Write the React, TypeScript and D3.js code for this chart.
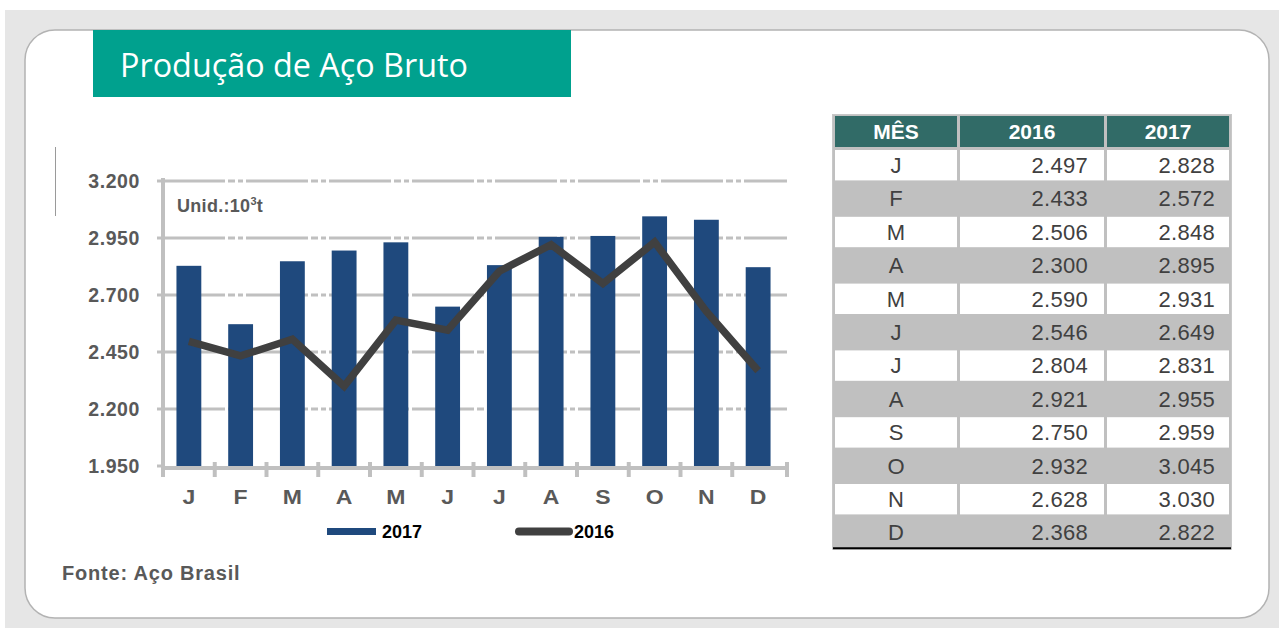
import React from "react";
import * as d3 from "d3";

const months = ["J", "F", "M", "A", "M", "J", "J", "A", "S", "O", "N", "D"];
const values2016 = [2497, 2433, 2506, 2300, 2590, 2546, 2804, 2921, 2750, 2932, 2628, 2368];
const values2017 = [2828, 2572, 2848, 2895, 2931, 2649, 2831, 2955, 2959, 3045, 3030, 2822];
const yTicks = [1950, 2200, 2450, 2700, 2950, 3200];
const tableHeaders = ["MÊS", "2016", "2017"];

const locale = d3.formatLocale({ decimal: ",", thousands: ".", grouping: [3], currency: ["R$", ""] });
const fmt = locale.format(",d");

const W = 1279;
const H = 628;
const FONT = "'Liberation Sans', Arial, sans-serif";

export default function App() {
  const idx = months.map((_, i) => i);
  const x = d3.scaleBand<number>().domain(idx).range([163, 784]).paddingInner(0.52).paddingOuter(0.26);
  const y = d3.scaleLinear().domain([1950, 3200]).range([466, 181]);
  const band = d3.scaleBand<number>().domain(idx).range([163, 784]);

  const line = d3
    .line<number>()
    .x((_, i) => (band(i) as number) + band.bandwidth() / 2)
    .y((d) => y(d));

  // table geometry
  const tX = 833;
  const tW = 398;
  const tTop = 115;
  const headH = 33;
  const rowH = 33.4;
  const cols = [
    [835, 957],
    [960, 1104],
    [1107, 1229],
  ];
  const tBottom = tTop + headH + rowH * months.length;

  const tickColor = "#c0c0c0";
  const textGray = "#595959";

  return (
    <div style={{ position: "absolute", left: 0, top: 0 }}>
      <svg width={W} height={H} style={{ display: "block" }}>
        <rect x={0} y={0} width={W} height={H} fill="#ffffff" />
        <rect x={5} y={10} width={W - 5} height={H - 10} fill="#e6e6e6" />
        <rect x={25} y={30} width={1244} height={588} rx={30} ry={30} fill="#ffffff" stroke="#b3b3b3" strokeWidth={1.5} />

        {/* title */}
        <rect x={93} y={30} width={478} height={67} fill="#00a18e" />
        <text x={120} y={77} fill="#ffffff" fontFamily="'Open Sans', 'Noto Sans', sans-serif" fontSize={32} textLength={348} lengthAdjust="spacingAndGlyphs">
          Produção de Aço Bruto
        </text>

        {/* small vertical line */}
        <line x1={55.5} x2={55.5} y1={147} y2={216} stroke="#9a9a9a" strokeWidth={1} />

        {/* gridlines */}
        {yTicks.slice(1).map((t) => (
          <line key={"g" + t} x1={163} x2={787} y1={y(t)} y2={y(t)} stroke={tickColor} strokeWidth={3} strokeDasharray="62 3 7 3 5 3" />
        ))}

        {/* y tick labels */}
        {yTicks.map((t) => (
          <text key={"yl" + t} x={140} y={y(t) + 7} textAnchor="end" fill={textGray} fontFamily={FONT} fontWeight="bold" fontSize={19.5} letterSpacing={0.6}>
            {fmt(t)}
          </text>
        ))}

        {/* bars 2017 */}
        {values2017.map((v, i) => (
          <rect key={"b" + i} x={x(i)} y={y(v)} width={x.bandwidth()} height={466 - y(v)} fill="#1f497d" />
        ))}

        {/* axes */}
        <line x1={163} x2={163} y1={178} y2={476} stroke={tickColor} strokeWidth={4} />
        {yTicks.map((t) => (
          <line key={"yt" + t} x1={157} x2={163} y1={y(t)} y2={y(t)} stroke={tickColor} strokeWidth={3} />
        ))}
        <line x1={161} x2={789} y1={468} y2={468} stroke={tickColor} strokeWidth={4} />
        {d3.range(13).map((k) => {
          const xpos = k === 12 ? 787 : (band(k) as number);
          return <line key={"xt" + k} x1={xpos} x2={xpos} y1={462} y2={477} stroke={tickColor} strokeWidth={4} />;
        })}

        {/* line 2016 */}
        <path d={line(values2016) || ""} fill="none" stroke="#404040" strokeWidth={7.5} strokeLinejoin="miter" />

        {/* x labels */}
        {months.map((m, i) => {
          const cx = (band(i) as number) + band.bandwidth() / 2;
          return (
            <text key={"xl" + i} x={0} y={0} textAnchor="middle" fill={textGray} fontFamily={FONT} fontWeight="bold" fontSize={20} transform={`translate(${cx},504) scale(1.15,1)`}>
              {m}
            </text>
          );
        })}

        {/* unit */}
        <text x={177} y={212} fill={textGray} fontFamily={FONT} fontWeight="bold" fontSize={18} letterSpacing={0.3}>
          Unid.:10<tspan fontSize={11} dy={-7}>3</tspan>
          <tspan dy={7}>t</tspan>
        </text>

        {/* legend */}
        <rect x={327} y={528} width={49} height={7} fill="#1f497d" />
        <text x={382} y={538} fill="#000000" fontFamily={FONT} fontWeight="bold" fontSize={18}>
          2017
        </text>
        <line x1={519} x2={569} y1={531.5} y2={531.5} stroke="#404040" strokeWidth={8} strokeLinecap="round" />
        <text x={574} y={538} fill="#000000" fontFamily={FONT} fontWeight="bold" fontSize={18}>
          2016
        </text>

        {/* source */}
        <text x={62} y={580} fill={textGray} fontFamily={FONT} fontWeight="bold" fontSize={20} letterSpacing={0.8}>
          Fonte: Aço Brasil
        </text>

        {/* table */}
        <rect x={tX - 1} y={tTop - 1} width={tW + 2} height={tBottom - tTop + 2} fill="#c8c8c8" />
        <rect x={tX} y={tTop} width={tW} height={tBottom - tTop} fill="#c0c0c0" />
        {cols.map((c, j) => (
          <g key={"h" + j}>
            <rect x={c[0]} y={tTop + 1} width={c[1] - c[0]} height={headH - 2} fill="#316b67" />
            <text x={(c[0] + c[1]) / 2} y={tTop + 24} textAnchor="middle" fill="#ffffff" fontFamily={FONT} fontWeight="bold" fontSize={21}>
              {tableHeaders[j]}
            </text>
          </g>
        ))}
        {months.map((m, i) => {
          const ry = tTop + headH + i * rowH;
          const white = i % 2 === 0;
          return (
            <g key={"r" + i}>
              {white &&
                cols.map((c, j) => (
                  <rect key={"c" + j} x={c[0]} y={ry + 2} width={c[1] - c[0]} height={rowH - 3} fill="#ffffff" />
                ))}
              <text x={(cols[0][0] + cols[0][1]) / 2} y={ry + 25} textAnchor="middle" fill="#404040" fontFamily={FONT} fontSize={22}>
                {m}
              </text>
              <text x={1088} y={ry + 25} textAnchor="end" fill="#404040" fontFamily={FONT} fontSize={22} letterSpacing={0.3}>
                {fmt(values2016[i])}
              </text>
              <text x={1215} y={ry + 25} textAnchor="end" fill="#404040" fontFamily={FONT} fontSize={22} letterSpacing={0.3}>
                {fmt(values2017[i])}
              </text>
            </g>
          );
        })}
        <line x1={tX} x2={tX + tW} y1={tBottom - 0.5} y2={tBottom - 0.5} stroke="#000000" strokeWidth={2} />
      </svg>
    </div>
  );
}
